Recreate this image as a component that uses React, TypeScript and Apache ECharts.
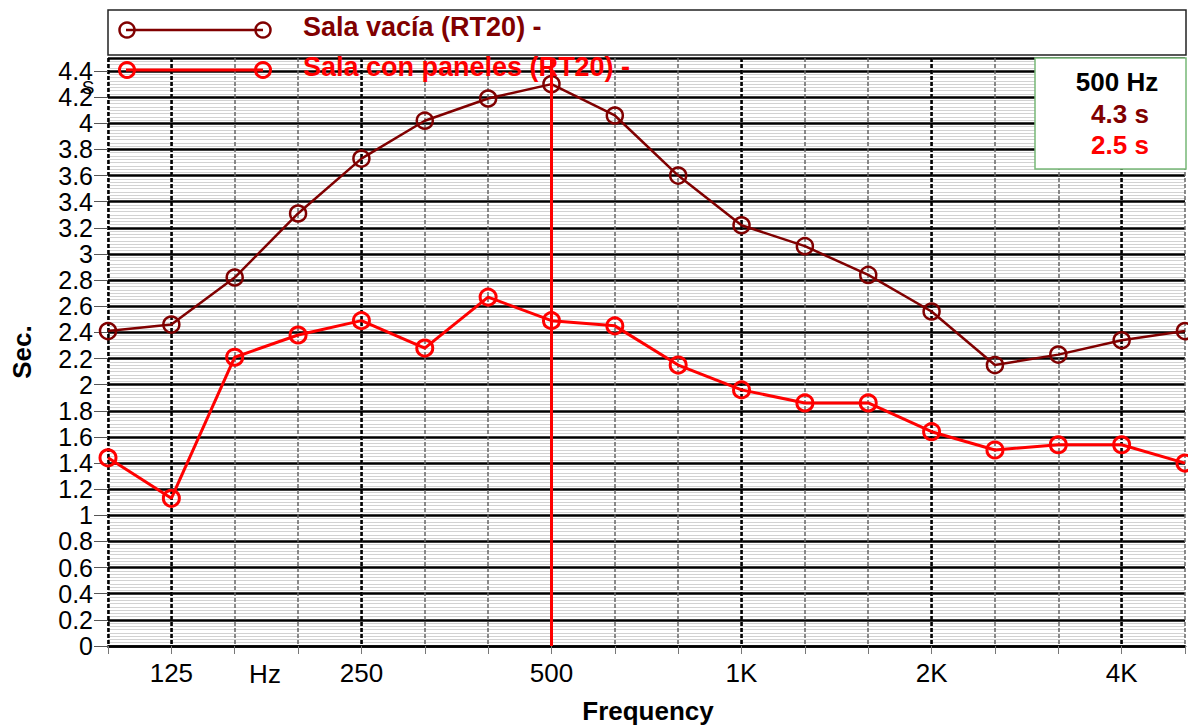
import React, { useEffect, useRef } from 'react';
import * as echarts from 'echarts';

const categories = ['100', '125', '160', '200', '250', '315', '400', '500', '630', '800', '1K', '1.25K', '1.6K', '2K', '2.5K', '3.15K', '4K', '5K'];
const tickLabels = ['', '125', '', '', '250', '', '', '500', '', '', '1K', '', '', '2K', '', '', '4K', ''];
const octaveIdx = [0, 1, 4, 7, 10, 13, 16];
const salaVacia = [2.41, 2.46, 2.82, 3.31, 3.73, 4.02, 4.19, 4.30, 4.06, 3.60, 3.22, 3.06, 2.84, 2.56, 2.15, 2.23, 2.34, 2.41];
const salaPaneles = [1.44, 1.13, 2.21, 2.38, 2.49, 2.28, 2.67, 2.49, 2.45, 2.15, 1.96, 1.86, 1.86, 1.64, 1.50, 1.54, 1.54, 1.40];
const seriesNames = ['Sala vacía (RT20) -', 'Sala con paneles (RT20) -'];
const seriesColors = ['#800000', '#ff0000'];
const selectedFreq = '500';
const infoLines = ['500 Hz', '4.3 s', '2.5 s'];

const FONT = '"Liberation Sans", Arial, sans-serif';

export default function App() {
  const ref = useRef<HTMLDivElement>(null);
  useEffect(() => {
    document.body.style.margin = '0';
    const chart = echarts.init(ref.current!, null, { renderer: 'svg' });
    const legendItem = (i: number, y: number, lw: number) => [
      { type: 'line', z: 100, shape: { x1: 126, y1: y, x2: 263, y2: y }, style: { stroke: seriesColors[i], lineWidth: lw } },
      { type: 'circle', z: 101, shape: { cx: 127, cy: y, r: 7.5 }, style: { fill: 'none', stroke: seriesColors[i], lineWidth: lw } },
      { type: 'circle', z: 101, shape: { cx: 263, cy: y, r: 7.5 }, style: { fill: 'none', stroke: seriesColors[i], lineWidth: lw } },
      { type: 'text', z: 102, x: 303, y: y - 3, style: { text: seriesNames[i], fill: seriesColors[i], font: `bold 27px ${FONT}`, textVerticalAlign: 'middle' } },
    ];
    const option: any = {
      animation: false,
      backgroundColor: '#ffffff',
      grid: { left: 108, right: 2, top: 58, bottom: 81, show: false },
      xAxis: [
        {
          type: 'category',
          data: categories,
          boundaryGap: false,
          axisLine: { lineStyle: { color: '#000', width: 2.5 } },
          axisTick: { show: true, interval: 0, length: 8, lineStyle: { color: '#777', width: 1 } },
          axisLabel: { interval: 0, formatter: (_v: string, i: number) => tickLabels[i], fontSize: 26, color: '#000', margin: 14, fontFamily: FONT },
          splitLine: { show: true, interval: 0, lineStyle: { color: '#666', width: 1.5, type: [4, 2] } },
        },
        {
          type: 'category',
          data: categories,
          boundaryGap: false,
          position: 'bottom',
          axisLine: { show: false },
          axisTick: { show: false },
          axisLabel: { show: false },
          splitLine: { show: true, interval: (i: number) => octaveIdx.includes(i), lineStyle: { color: '#000', width: 2.5, type: [4, 2] } },
        },
      ],
      yAxis: {
        type: 'value',
        min: 0,
        max: 4.5,
        interval: 0.2,
        axisLine: { show: false },
        axisTick: { show: true, length: 14, lineStyle: { color: '#555', width: 1 } },
        axisLabel: { fontSize: 25, color: '#000', margin: 15, fontFamily: FONT, showMaxLabel: false },
        splitLine: { show: true, lineStyle: { color: '#000', width: 2.5 } },
        minorTick: { show: false, splitNumber: 8 },
        minorSplitLine: { show: true, lineStyle: { color: '#d2d2d2', width: 1 } },
      },
      series: [
        {
          name: seriesNames[0],
          type: 'line',
          data: salaVacia,
          symbol: 'circle',
          symbolSize: 16,
          z: 3,
          lineStyle: { color: seriesColors[0], width: 2.5 },
          itemStyle: { color: 'rgba(0,0,0,0)', borderColor: seriesColors[0], borderWidth: 2.5 },
        },
        {
          name: seriesNames[1],
          type: 'line',
          data: salaPaneles,
          symbol: 'circle',
          symbolSize: 16,
          z: 4,
          lineStyle: { color: seriesColors[1], width: 3 },
          itemStyle: { color: 'rgba(0,0,0,0)', borderColor: seriesColors[1], borderWidth: 3 },
          markLine: {
            silent: true,
            symbol: 'none',
            label: { show: false },
            lineStyle: { color: '#ff0000', width: 3, type: 'solid' },
            data: [{ xAxis: selectedFreq }],
          },
        },
      ],
      graphic: [
        { type: 'rect', z: 99, shape: { x: 108, y: 10, width: 1078, height: 45 }, style: { fill: '#fff', stroke: '#222', lineWidth: 1.5 } },
        ...legendItem(0, 30, 2.5),
        ...legendItem(1, 70, 3),
        { type: 'rect', z: 110, shape: { x: 1035, y: 58, width: 151, height: 111 }, style: { fill: '#fff', stroke: '#77b877', lineWidth: 1.5 } },
        { type: 'text', z: 111, x: 1117, y: 82, style: { text: infoLines[0], fill: '#000', font: `bold 26px ${FONT}`, textAlign: 'center', textVerticalAlign: 'middle' } },
        { type: 'text', z: 111, x: 1120, y: 114, style: { text: infoLines[1], fill: seriesColors[0], font: `bold 26px ${FONT}`, textAlign: 'center', textVerticalAlign: 'middle' } },
        { type: 'text', z: 111, x: 1120, y: 145, style: { text: infoLines[2], fill: seriesColors[1], font: `bold 26px ${FONT}`, textAlign: 'center', textVerticalAlign: 'middle' } },
        { type: 'text', z: 50, x: 265, y: 674, style: { text: 'Hz', fill: '#000', font: `26px ${FONT}`, textAlign: 'center', textVerticalAlign: 'middle' } },
        { type: 'text', z: 50, x: 88, y: 87, style: { text: 'S', fill: '#000', font: `19px ${FONT}`, textAlign: 'center', textVerticalAlign: 'middle' } },
        { type: 'text', z: 50, x: 648, y: 711, style: { text: 'Frequency', fill: '#000', font: `bold 26px ${FONT}`, textAlign: 'center', textVerticalAlign: 'middle' } },
        { type: 'text', z: 50, x: 22, y: 352, rotation: Math.PI / 2, style: { text: 'Sec.', fill: '#000', font: `bold 26px ${FONT}`, textAlign: 'center', textVerticalAlign: 'middle' } },
      ],
    };
    chart.setOption(option);
    return () => chart.dispose();
  }, []);
  return <div ref={ref} style={{ width: 1188, height: 727 }} />;
}
